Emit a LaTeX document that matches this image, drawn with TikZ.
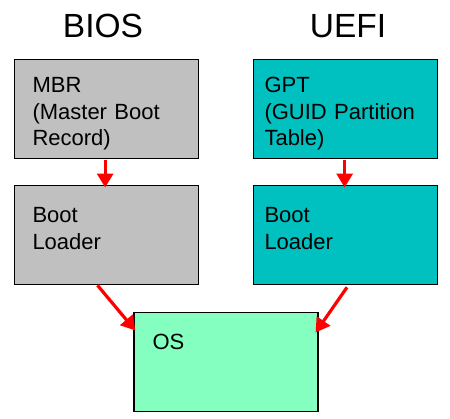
\documentclass[tikz,border=0pt]{standalone}
\usepackage{fontspec}
\setmainfont{Liberation Sans}
\usetikzlibrary{arrows.meta,calc}
\definecolor{boxgray}{RGB}{192,192,192}
\definecolor{boxteal}{RGB}{0,192,192}
\definecolor{boxgreen}{RGB}{133,255,192}
\definecolor{arrred}{RGB}{255,0,0}
\begin{document}
\begin{tikzpicture}[x=1pt,y=-1pt,
  box/.style={draw=black,line width=1.3pt,minimum width=184pt,minimum height=99.5pt,inner sep=0pt,anchor=north west},
  label/.style={anchor=base west,inner sep=0pt,text width=170pt,align=left,font=\fontsize{22}{26.7}\selectfont},
  title/.style={anchor=base,inner sep=0pt,font=\fontsize{33.5}{40}\selectfont},
  conn/.style={draw=arrred,line width=3.2pt,-{Triangle[length=14pt,width=16pt]}}]
\fill[white] (0,0) rectangle (450,418);
\useasboundingbox (0,0) rectangle (450,418);
\node[title] (tbios) at (103,37) {BIOS};
\node[title] (tuefi) at (348,37) {UEFI};
\node[box,fill=boxgray] (mbr) at (13.5,58.5) {};
\node[box,fill=boxteal] (gpt) at (252.5,58.5) {};
\node[box,fill=boxgray] (bl1) at (13.5,184.5) {};
\node[box,fill=boxteal] (bl2) at (252.5,184.5) {};
\node[box,fill=boxgreen] (os) at (133.3,311.5) {};
\node[label] (tmbr) at (32.3,92.3) {MBR\\(Master Boot\\Record)};
\node[label] (tgpt) at (264.3,92.3) {GPT\\(GUID Partition\\Table)};
\node[label] (tbl1) at (32.3,222.7) {Boot\\Loader};
\node[label] (tbl2) at (264.3,222.7) {Boot\\Loader};
\node[label] (tos) at (152.3,349) {OS};
\draw[conn] ([xshift=-1pt,yshift=-1pt]mbr.south) -- ([xshift=-1pt,yshift=-3pt]bl1.north);
\draw[conn] ([xshift=-0.5pt,yshift=-1pt]gpt.south) -- ([xshift=-0.5pt,yshift=-3pt]bl2.north);
\draw[conn] ([xshift=84pt,yshift=0pt]bl1.south west) -- ([xshift=2pt,yshift=-19pt]os.north west);
\draw[conn] ([xshift=94.5pt,yshift=-2pt]bl2.south west) -- ([xshift=-3pt,yshift=-21pt]os.north east);
\end{tikzpicture}
\end{document}
